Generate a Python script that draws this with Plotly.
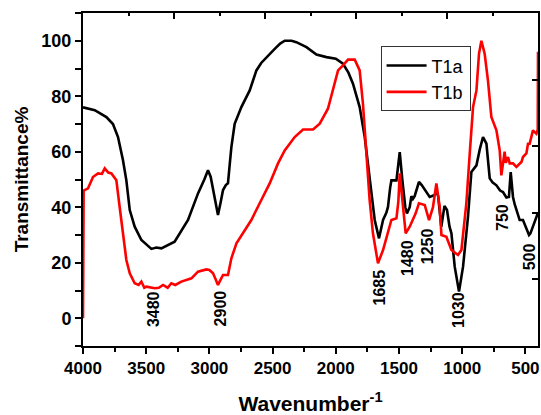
import plotly.graph_objects as go

# ---- data ----
wn_T1a = [4000, 3907, 3815, 3763, 3723, 3684, 3657, 3630, 3591, 3538, 3459, 3420, 3380, 3275, 3169, 3090,
          3040, 3011, 2990, 2971, 2945, 2932, 2910, 2892, 2870, 2853, 2840, 2826, 2800, 2747, 2681, 2628,
          2590, 2549, 2483, 2440, 2404, 2350, 2312, 2232, 2153, 2074, 2000, 1943, 1900, 1864, 1811, 1771,
          1732, 1692, 1658, 1626, 1600, 1587, 1570, 1560, 1520, 1505, 1494, 1473, 1450, 1437, 1415, 1402,
          1390, 1376, 1342, 1320, 1296, 1257, 1217, 1204, 1190, 1165, 1140, 1120, 1100, 1085, 1059, 1025,
          993, 954, 927, 887, 860, 835, 808, 782, 760, 729, 700, 677, 650, 630, 616, 598, 584, 545, 519,
          492, 471, 460, 440, 426, 400]
t_T1a = [76, 75, 72.5, 70, 65.3, 57, 49.7, 39, 33, 28.2, 25, 25.5, 25.2, 27.6, 35.4, 45,
         50, 53.3, 51, 46.2, 40, 37.2, 42, 46.2, 48, 48.6, 55, 61.7, 70.1, 76.1, 82.1, 89.3,
         92, 94.1, 97.1, 99, 100, 100, 99.5, 97.7, 95, 94.1, 93.5, 91.7, 88.5, 84.5, 76.1, 65.3,
         50.9, 35.4, 28.8, 35.4, 38, 40.1, 47, 49.7, 49.7, 55, 59.9, 49.7, 40, 37.8, 40, 44,
         43, 44, 49.1, 48, 46.2, 43.7, 44.4, 46.2, 44, 33, 40.5, 39, 33, 30.6, 18.6, 9.6,
         18.6, 36.5, 52.7, 55.1, 61, 65.3, 62.9, 50.4, 49, 47.9, 46, 45.5, 43.5, 43.7, 52.7, 43.7, 41, 35.4, 35.4,
         32.4, 30, 30.6, 33, 34.7, 38]

wn_T1b = [4000, 3995, 3960, 3921, 3881, 3850, 3828, 3800, 3775, 3736, 3710, 3684, 3657, 3630, 3591, 3560,
          3538, 3515, 3498, 3433, 3400, 3367, 3330, 3301, 3270, 3222, 3142, 3090, 3024, 3000, 2971, 2950,
          2932, 2910, 2892, 2853, 2840, 2826, 2786, 2734, 2668, 2589, 2523, 2457, 2404, 2325, 2259, 2180,
          2127, 2062, 2022, 1982, 1943, 1903, 1850, 1811, 1785, 1758, 1732, 1706, 1666, 1626, 1587, 1560,
          1520, 1505, 1494, 1473, 1447, 1415, 1389, 1368, 1342, 1296, 1262, 1243, 1231, 1204, 1190, 1178,
          1164, 1125, 1085, 1033, 1006, 967, 940, 914, 887, 867, 848, 822, 796, 769, 729, 703, 690, 675,
          664, 655, 637, 624, 598, 571, 558, 531, 519, 492, 479, 466, 440, 426, 413, 402, 400]
t_T1b = [0, 46, 46.8, 50.9, 52.2, 52, 54, 52.5, 52.2, 49.7, 40.1, 30.6, 21, 16.2, 12.6, 12,
         13.2, 11, 11.4, 10.8, 11, 12, 11, 12.6, 12, 13.2, 14.4, 16.8, 17.6, 17.4, 16.2, 14,
         12, 14, 15.6, 15.6, 19, 21.6, 27, 30.6, 35.4, 42.6, 48.6, 55.8, 60.5, 65.3, 68, 68,
         70.1, 75.5, 82.1, 89.3, 91.1, 93.2, 93.2, 89.3, 77.3, 59.4, 42.6, 30.6, 19.8, 24.6, 30.6, 35.4,
         36, 42, 52.2, 42.6, 30.6, 33, 35.4, 37.8, 41.4, 40.8, 35.4, 37.8, 40, 48.6, 44, 40.1,
         30, 29.4, 24.6, 22.8, 24.6, 41.4, 59.4, 76.1, 82.1, 95.3, 100, 95.3, 85.7, 72.5, 67.7, 60.5, 51.5, 56,
         60, 56, 58.1, 55.8, 55.8, 54.5, 55, 56.3, 58.1, 59.4, 62.9, 62.9, 67.7, 67.1, 66.5, 68, 96]

peak_labels = ["3480", "2900", "1685", "1480", "1250", "1030", "750", "500"]
peak_x = [3446, 2905, 1658, 1437, 1275, 1025, 677, 466]
peak_y = [3.3, 3.7, 11.1, 21.7, 26.1, 3.0, 36.5, 22.2]

FONT = "Liberation Sans, Arial, sans-serif"

fig = go.Figure()
fig.add_trace(go.Scatter(x=wn_T1a, y=t_T1a, mode="lines", name="T1a",
                         line=dict(color="black", width=2.6)))
fig.add_trace(go.Scatter(x=wn_T1b, y=t_T1b, mode="lines", name="T1b",
                         line=dict(color="#ff0000", width=2.6)))
# empty trace so the top/right frame axes get drawn
fig.add_trace(go.Scatter(x=[], y=[], xaxis="x2", yaxis="y2", showlegend=False,
                         hoverinfo="skip", mode="lines"))

for lab, px, py in zip(peak_labels, peak_x, peak_y):
    fig.add_annotation(x=px, y=py, text=lab, textangle=-90, showarrow=False,
                       font=dict(family=FONT, size=16, color="black", weight="bold"))

fig.update_layout(
    width=541, height=415,
    margin=dict(l=83, r=3, t=13, b=69),
    paper_bgcolor="white", plot_bgcolor="white",
    showlegend=True,
    legend=dict(x=0.654, y=0.9, xanchor="left", yanchor="top",
                bgcolor="white", bordercolor="#333333", borderwidth=1,
                font=dict(family=FONT, size=18, color="black"),
                tracegroupgap=0, itemwidth=40),
    xaxis=dict(range=[4000, 400], tickmode="linear", tick0=4000, dtick=500,
               ticks="outside", ticklen=6, tickwidth=2, tickcolor="black",
               minor=dict(dtick=250, tick0=4000, ticks="outside", ticklen=4, tickwidth=2, tickcolor="black"),
               showline=True, linewidth=2, linecolor="black", mirror=False,
               showgrid=False, zeroline=False,
               tickfont=dict(family=FONT, size=17, color="black", weight="bold"),
               title=dict(text="Wavenumber<sup>-1</sup>", standoff=22,
                          font=dict(family=FONT, size=21, color="black", weight="bold")),
               automargin=False),
    yaxis=dict(range=[-10, 110], tickmode="array", tickvals=[0, 20, 40, 60, 80, 100],
               ticks="outside", ticklen=6, tickwidth=2, tickcolor="black",
               minor=dict(tickvals=[-10, 10, 30, 50, 70, 90, 110], ticks="outside", ticklen=6, tickwidth=2, tickcolor="black"),
               showline=True, linewidth=2, linecolor="black", mirror=False,
               showgrid=False, zeroline=False,
               tickfont=dict(family=FONT, size=18, color="black", weight="bold"),
               title=dict(text="Transmittance%", standoff=8,
                          font=dict(family=FONT, size=19, color="black", weight="bold")),
               automargin=False),
    xaxis2=dict(overlaying="x", side="top", anchor="y2", range=[0, 5], tickmode="linear", tick0=0, dtick=1,
                ticks="inside", ticklen=6, tickwidth=2, tickcolor="black",
                minor=dict(dtick=0.5, ticks="inside", ticklen=3, tickwidth=2, tickcolor="black"),
                showticklabels=False, showline=True, linewidth=2, linecolor="black",
                showgrid=False, zeroline=False, fixedrange=True),
    yaxis2=dict(overlaying="y", side="right", anchor="x2", range=[0, 5], tickmode="linear", tick0=0, dtick=1,
                ticks="inside", ticklen=6, tickwidth=2, tickcolor="black",
                showticklabels=False, showline=True, linewidth=2, linecolor="black",
                showgrid=False, zeroline=False, fixedrange=True),
)

fig.write_html("out.html", config={"displayModeBar": False},
               post_script="document.body.style.margin='0';document.body.style.overflow='hidden';")
